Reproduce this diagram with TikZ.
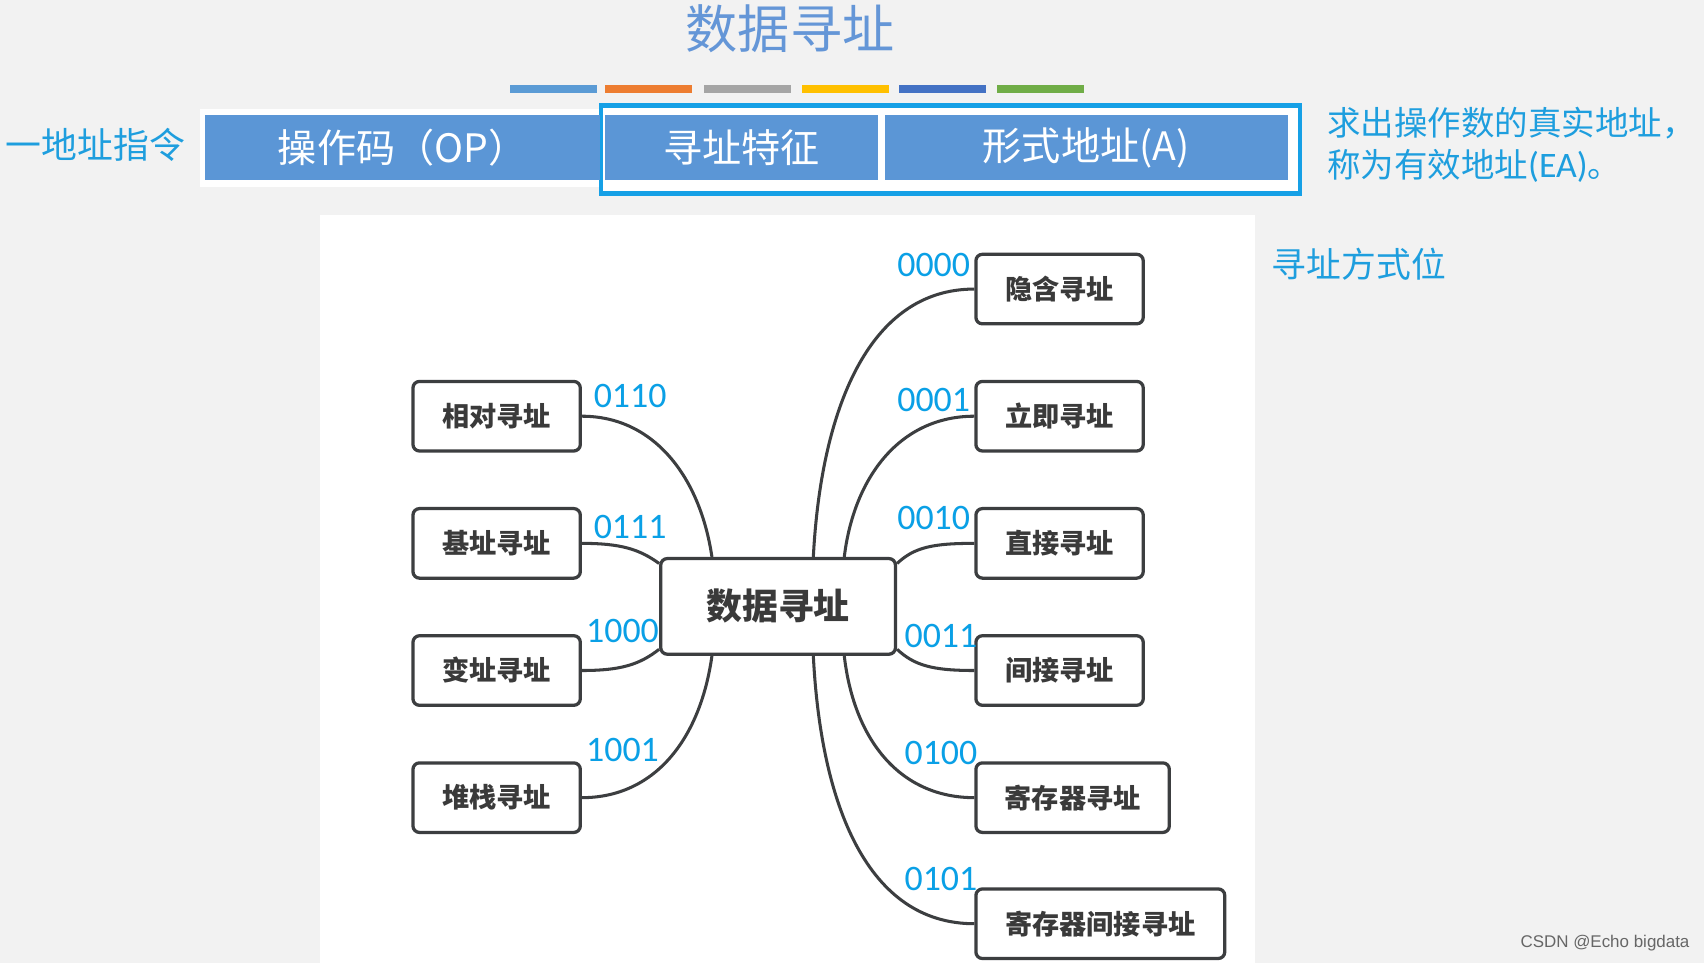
\documentclass[tikz,border=0pt]{standalone}
\usepackage{fontspec}
\setmainfont{Liberation Sans}
\newfontfamily\cjk{Noto Sans CJK SC}
\newfontfamily\carl{Carlito}
\usetikzlibrary{calc}
\definecolor{bg}{RGB}{242,242,242}
\definecolor{barblue}{RGB}{91,150,214}
\definecolor{framecol}{RGB}{22,160,230}
\definecolor{titlecol}{RGB}{100,150,215}
\definecolor{cyantext}{RGB}{30,158,222}
\definecolor{numcol}{RGB}{10,160,230}
\definecolor{nodeline}{RGB}{60,62,64}
\definecolor{nodetext}{RGB}{58,58,58}
\definecolor{cA}{RGB}{91,155,213}
\definecolor{cB}{RGB}{237,125,49}
\definecolor{cC}{RGB}{165,165,165}
\definecolor{cD}{RGB}{255,192,0}
\definecolor{cE}{RGB}{68,114,196}
\definecolor{cF}{RGB}{112,173,71}
\tikzset{
  mbox/.style={draw=nodeline, line width=1.5pt, rounded corners=3pt, fill=white,
    minimum height=32pt, minimum width=77pt, inner sep=0pt,
    font=\cjk\bfseries\fontsize{12.5pt}{14pt}\selectfont, text=nodetext},
  barbox/.style={fill=barblue, minimum height=30pt, inner sep=0pt, text=white,
    font=\cjk\fontsize{18pt}{20pt}\selectfont},
  edge/.style={draw=nodeline, line width=1.4pt},
  num/.style={text=numcol, inner sep=0pt, font=\carl\fontsize{16.5pt}{18pt}\selectfont},
  note/.style={text=cyantext, inner sep=0pt, font=\cjk\fontsize{16pt}{19pt}\selectfont},
  seg/.style={minimum width=40pt, minimum height=3.5pt, inner sep=0pt}
}
\begin{document}
\begin{tikzpicture}[x=0.5pt,y=-0.5pt]
\useasboundingbox (0,0) rectangle (1568,886);
\fill[bg] (0,0) rectangle (1568,886);
% white panel
\fill[white] (294,198) rectangle (1155,886);

% title
\node[text=titlecol, inner sep=0pt, font=\cjk\fontsize{24pt}{26pt}\selectfont] (title) at (727,26) {数据寻址};

% colour bars
\node[seg, fill=cA] (s1) at (509,82) {};
\node[seg, fill=cB] (s2) at (597,82) {};
\node[seg, fill=cC] (s3) at (688,82) {};
\node[seg, fill=cD] (s4) at (778,82) {};
\node[seg, fill=cE] (s5) at (867,82) {};
\node[seg, fill=cF] (s6) at (957.5,82) {};

% instruction format
\node[note, font=\cjk\fontsize{16.5pt}{19pt}\selectfont] (one) at (88,133) {一地址指令};
\fill[white] (184,100) rectangle (552,172);
\draw[framecol, line width=2pt, fill=white] (553,97) rectangle (1196,178);
\node[barbox, minimum width=181.5pt] (op) at (370.5,136) {操作码（OP）};
\node[barbox, minimum width=125.5pt] (feat) at (682.5,136) {寻址特征};
\node[barbox, minimum width=185.5pt] (addr) at (999.5,136) {形式地址(A)};
\node[note, anchor=west, font=\cjk\fontsize{15.4pt}{19pt}\selectfont] (ea1) at (1221,113) {求出操作数的真实地址，};
\node[note, anchor=west, font=\cjk\fontsize{15.4pt}{19pt}\selectfont] (ea2) at (1221,153) {称为有效地址{\carl\fontsize{16.5pt}{19pt}\selectfont (EA)}。};
\node[note, anchor=west] (bits) at (1170,243) {寻址方式位};

% mind map
\node[mbox, minimum width=108pt, minimum height=44pt, font=\cjk\bfseries\fontsize{16.5pt}{18pt}\selectfont] (c) at (716,558) {数据寻址};

\node[mbox] (r1) at (975,266) {隐含寻址};
\node[mbox] (r2) at (975,383) {立即寻址};
\node[mbox] (r3) at (975,500) {直接寻址};
\node[mbox] (r4) at (975,617) {间接寻址};
\node[mbox, minimum width=89pt] (r5) at (987,734) {寄存器寻址};
\node[mbox, minimum width=114.5pt] (r6) at (1012.5,850) {寄存器间接寻址};

\node[mbox] (l1) at (457,383) {相对寻址};
\node[mbox] (l2) at (457,500) {基址寻址};
\node[mbox] (l3) at (457,617) {变址寻址};
\node[mbox] (l4) at (457,734) {堆栈寻址};

\coordinate (tA) at ($(c.north west)!0.222!(c.north east)$);
\coordinate (tB) at ($(c.north west)!0.648!(c.north east)$);
\coordinate (tC) at ($(c.north west)!0.778!(c.north east)$);
\coordinate (bA) at ($(c.south west)!0.222!(c.south east)$);
\coordinate (bB) at ($(c.south west)!0.648!(c.south east)$);
\coordinate (bC) at ($(c.south west)!0.778!(c.south east)$);
\coordinate (rT) at ($(c.north east)+(0,6)$);
\coordinate (rB) at ($(c.south east)+(0,-6)$);
\coordinate (lT) at ($(c.north west)+(0,6)$);
\coordinate (lB) at ($(c.south west)+(0,-6)$);

\draw[edge] (tB) .. controls ($(tB)+(7,-134)$) and ($(r1.west)+(-98,0)$) .. (r1.west);
\draw[edge] (tC) .. controls ($(tC)+(9,-74)$) and ($(r2.west)+(-68,0)$) .. (r2.west);
\draw[edge] (rT) .. controls ($(rT)+(16,-15)$) and ($(r3.west)+(-38,0)$) .. (r3.west);
\draw[edge] (rB) .. controls ($(rB)+(16,15)$) and ($(r4.west)+(-38,0)$) .. (r4.west);
\draw[edge] (bC) .. controls ($(bC)+(9,78)$) and ($(r5.west)+(-68,0)$) .. (r5.west);
\draw[edge] (bB) .. controls ($(bB)+(7,138)$) and ($(r6.west)+(-98,0)$) .. (r6.west);

\draw[edge] (tA) .. controls ($(tA)+(-11,-74)$) and ($(l1.east)+(66,0)$) .. (l1.east);
\draw[edge] (lT) .. controls ($(lT)+(-18,-13)$) and ($(l2.east)+(36,0)$) .. (l2.east);
\draw[edge] (lB) .. controls ($(lB)+(-18,14)$) and ($(l3.east)+(36,0)$) .. (l3.east);
\draw[edge] (bA) .. controls ($(bA)+(-11,78)$) and ($(l4.east)+(66,0)$) .. (l4.east);

% codes
\node[num, anchor=east] (n1) at (893,244) {0000};
\node[num, anchor=east] (n2) at (893,368) {0001};
\node[num, anchor=east] (n3) at (893,477) {0010};
\node[num, anchor=west] (n4) at (832,585) {0011};
\node[num, anchor=west] (n5) at (832,693) {0100};
\node[num, anchor=west] (n6) at (832,809) {0101};
\node[num, anchor=west] (n7) at (546,364) {0110};
\node[num, anchor=west] (n8) at (546,485) {0111};
\node[num, anchor=west] (n9) at (539,581) {1000};
\node[num, anchor=west] (n10) at (539,690) {1001};

% watermark
\node[text=black!60, inner sep=0pt, font=\fontsize{7.8pt}{9pt}\selectfont, anchor=east] (wm) at (1555,868) {CSDN @Echo bigdata};
\end{tikzpicture}
\end{document}
